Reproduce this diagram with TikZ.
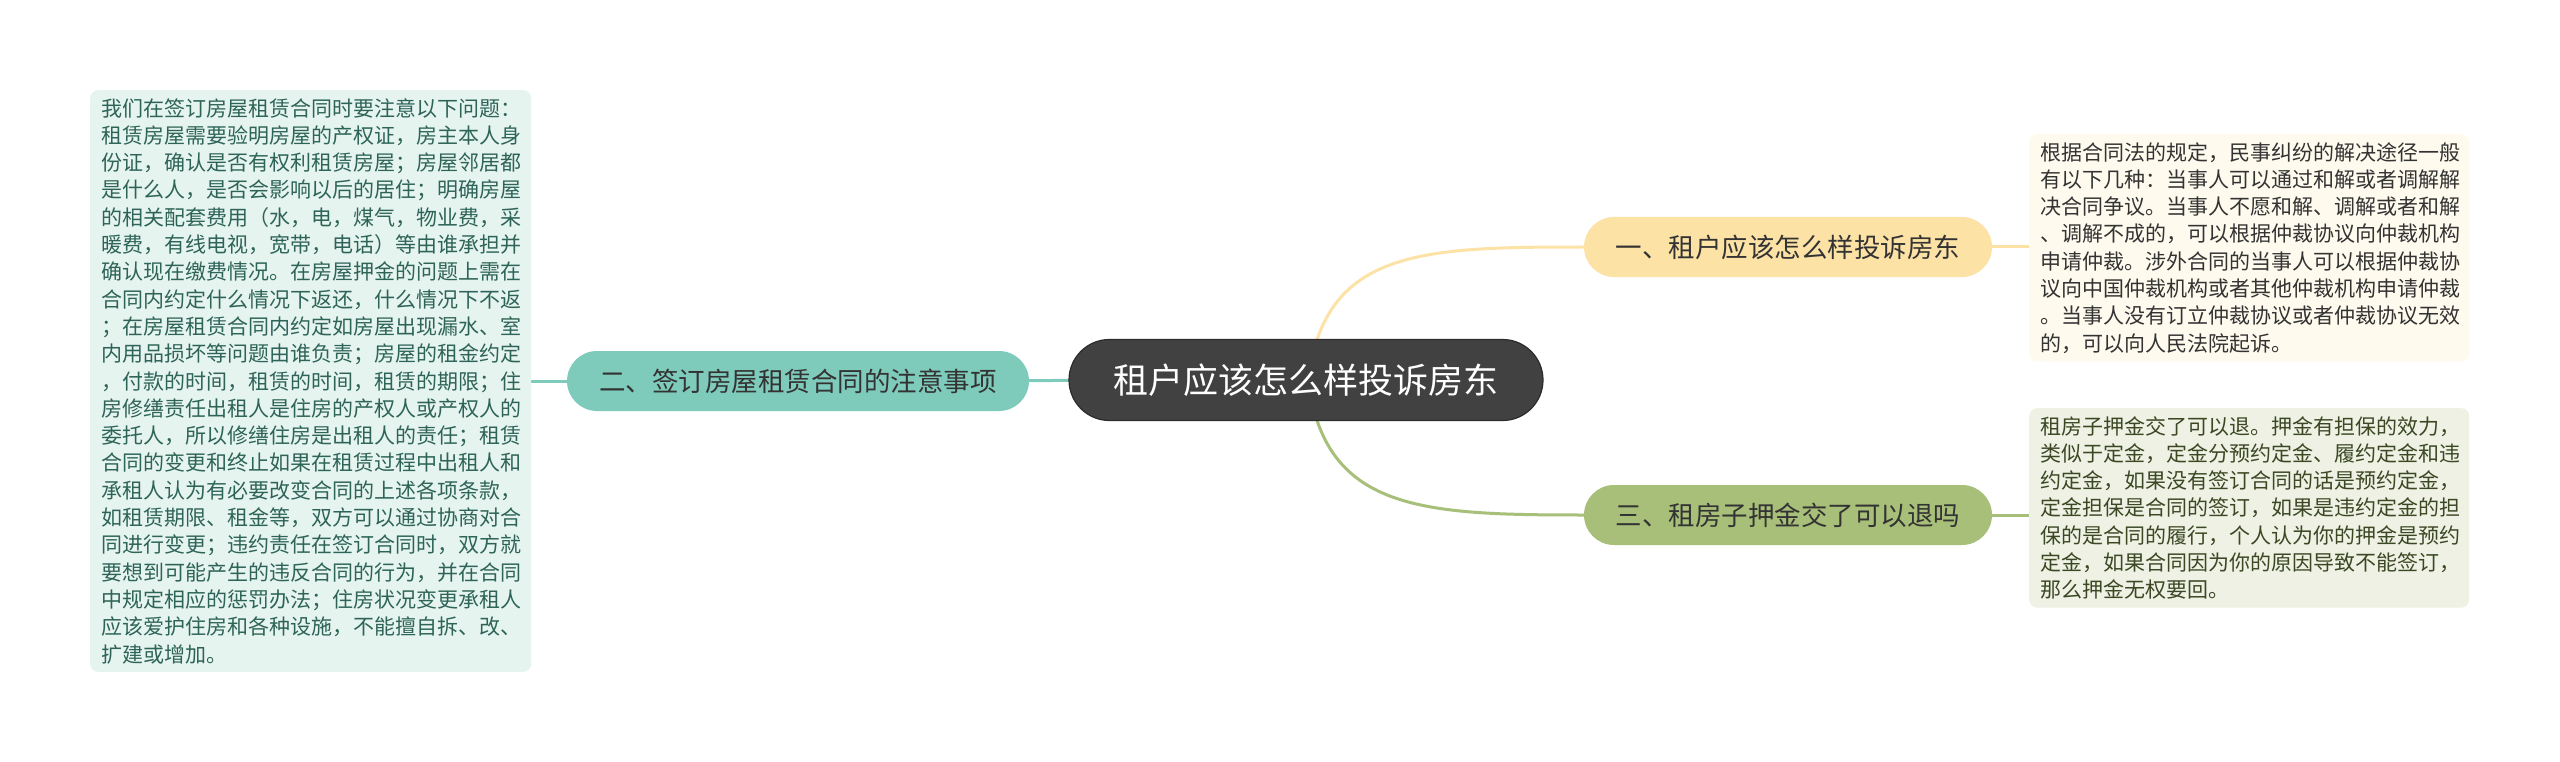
\documentclass[tikz,border=0pt]{standalone}
\usepackage{fontspec}
\setmainfont{Noto Sans CJK SC}
\usetikzlibrary{shapes.misc}
\definecolor{tealn}{HTML}{7FCBBB}
\definecolor{yeln}{HTML}{FDE2A6}
\definecolor{grnn}{HTML}{A7BF79}
\definecolor{tealbg}{HTML}{E6F4F0}
\definecolor{yelbg}{HTML}{FEFAEE}
\definecolor{grnbg}{HTML}{EEF1E4}
\definecolor{tealtx}{HTML}{2E6457}
\definecolor{yeltx}{HTML}{333333}
\definecolor{grntx}{HTML}{3C4824}
\definecolor{rootfill}{HTML}{414141}
\definecolor{rootdraw}{HTML}{2C2C2C}
\pgfdeclarelayer{bg}
\pgfdeclarelayer{paper}
\pgfsetlayers{paper,bg,main}
\tikzset{
  rootbox/.style={rounded rectangle, fill=rootfill, draw=rootdraw, line width=1.2pt,
    minimum width=474pt, minimum height=81pt, text=white, inner sep=0pt,
    font=\fontsize{35}{40}\selectfont},
  topic/.style={rounded rectangle, minimum height=60pt, inner sep=0pt, text=yeltx,
    font=\fontsize{26.5}{30}\selectfont},
  textbox/.style={rounded corners=8pt, inner xsep=11pt, inner ysep=8pt, align=left,
    font=\fontsize{21}{27.3}\selectfont},
  conn/.style={line width=3pt}
}
\begin{document}
\begin{tikzpicture}[x=1pt,y=-1pt]
\useasboundingbox (0,0) rectangle (2560,762);
\begin{pgfonlayer}{paper}
\fill[white] (0,0) rectangle (2560,762);
\end{pgfonlayer}

\node[rootbox] (root) at (1306,380) {租户应该怎么样投诉房东};
\node[topic, fill=tealn, minimum width=462pt] (n2) at (798,381) {二、签订房屋租赁合同的注意事项};
\node[topic, fill=yeln, minimum width=408pt] (n1) at (1788,247) {一、租户应该怎么样投诉房东};
\node[topic, fill=grnn, minimum width=408pt] (n3) at (1788,515) {三、租房子押金交了可以退吗};

\node[textbox, fill=tealbg, text=tealtx, text width=419pt, anchor=north west] (t2) at (90,90) {我们在签订房屋租赁合同时要注意以下问题：\\
租赁房屋需要验明房屋的产权证，房主本人身\\
份证，确认是否有权利租赁房屋；房屋邻居都\\
是什么人，是否会影响以后的居住；明确房屋\\
的相关配套费用（水，电，煤气，物业费，采\\
暖费，有线电视，宽带，电话）等由谁承担并\\
确认现在缴费情况。在房屋押金的问题上需在\\
合同内约定什么情况下返还，什么情况下不返\\
；在房屋租赁合同内约定如房屋出现漏水、室\\
内用品损坏等问题由谁负责；房屋的租金约定\\
，付款的时间，租赁的时间，租赁的期限；住\\
房修缮责任出租人是住房的产权人或产权人的\\
委托人，所以修缮住房是出租人的责任；租赁\\
合同的变更和终止如果在租赁过程中出租人和\\
承租人认为有必要改变合同的上述各项条款，\\
如租赁期限、租金等，双方可以通过协商对合\\
同进行变更；违约责任在签订合同时，双方就\\
要想到可能产生的违反合同的行为，并在合同\\
中规定相应的惩罚办法；住房状况变更承租人\\
应该爱护住房和各种设施，不能擅自拆、改、\\
扩建或增加。};

\node[textbox, fill=yelbg, text=yeltx, text width=418pt, anchor=north west] (t1) at (2029,134) {根据合同法的规定，民事纠纷的解决途径一般\\
有以下几种：当事人可以通过和解或者调解解\\
决合同争议。当事人不愿和解、调解或者和解\\
、调解不成的，可以根据仲裁协议向仲裁机构\\
申请仲裁。涉外合同的当事人可以根据仲裁协\\
议向中国仲裁机构或者其他仲裁机构申请仲裁\\
。当事人没有订立仲裁协议或者仲裁协议无效\\
的，可以向人民法院起诉。};

\node[textbox, fill=grnbg, text=grntx, text width=418pt, anchor=north west] (t3) at (2029,408) {租房子押金交了可以退。押金有担保的效力，\\
类似于定金，定金分预约定金、履约定金和违\\
约定金，如果没有签订合同的话是预约定金，\\
定金担保是合同的签订，如果是违约定金的担\\
保的是合同的履行，个人认为你的押金是预约\\
定金，如果合同因为你的原因导致不能签订，\\
那么押金无权要回。};

\begin{pgfonlayer}{bg}
\draw[conn, tealn] (root.center) -- (n2.center);
\draw[conn, yeln] ([xshift=2pt]root.center) .. controls +(17,-130) and +(-165,0) .. (n1.west);
\draw[conn, grnn] ([xshift=2pt]root.center) .. controls +(17,130) and +(-165,0) .. (n3.west);
\draw[conn, tealn] (n2.west) -- (n2.west -| t2.east);
\draw[conn, yeln] (n1.east) -- (n1.east -| t1.west);
\draw[conn, grnn] (n3.east) -- (n3.east -| t3.west);
\end{pgfonlayer}
\end{tikzpicture}
\end{document}
